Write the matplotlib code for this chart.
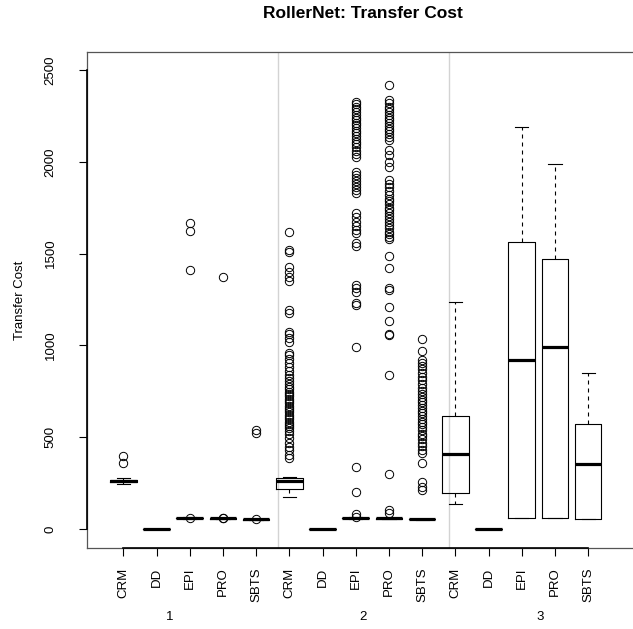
import numpy as np
import matplotlib
matplotlib.use("Agg")
from matplotlib import pyplot as plt

plt.rcParams['font.family'] = ['Liberation Sans', 'DejaVu Sans']

# boxes: 5 methods in each of 3 groups
methods = ["CRM", "DD", "EPI", "PRO", "SBTS"]
groups = ["1", "2", "3"]
labels = methods * 3

medians = [260, 0, 60, 58, 53, 263, 0, 60, 58, 54, 407, 0, 920, 991, 352]
q1 = [255, 0, 58, 56, 51, 218, 0, 58, 56, 52, 194, 0, 58, 58, 53]
q3 = [266, 0, 62, 60, 55, 276, 0, 62, 60, 56, 615, 0, 1565, 1470, 574]
whislo = [246, 0, 57, 55, 50, 173, 0, 56, 55, 51, 134, 0, 58, 58, 53]
whishi = [276, 0, 63, 62, 57, 282, 0, 64, 62, 57, 1238, 0, 2190, 1988, 848]

fliers = [
    [360, 395],
    [],
    [60, 1410, 1622, 1665],
    [62, 58, 1370],
    [55, 522, 540],
    [385, 405, 430, 448, 470, 495, 520, 535, 548, 560, 572, 585, 598, 610,
     622, 635, 648, 660, 672, 685, 698, 710, 722, 735, 748, 760, 775, 790,
     805, 822, 840, 860, 880, 905, 925, 945, 960, 1020, 1040, 1060, 1075,
     1175, 1192, 1350, 1375, 1400, 1428, 1508, 1522, 1615],
    [],
    [68, 80, 200, 340, 993, 1220, 1232, 1290, 1310, 1330, 1540, 1555, 1612,
     1630, 1650, 1672, 1700, 1720, 1828, 1845, 1860, 1880, 1895, 1910, 1930,
     1946, 2028, 2045, 2060, 2080, 2095, 2110, 2125, 2140, 2155, 2170, 2185,
     2200, 2212, 2225, 2240, 2255, 2270, 2285, 2300, 2315, 2327],
    [87, 103, 300, 839, 1057, 1062, 1133, 1211, 1300, 1311, 1423, 1487, 1578,
     1590, 1605, 1620, 1640, 1655, 1670, 1690, 1705, 1720, 1735, 1750, 1770,
     1785, 1800, 1820, 1840, 1860, 1880, 1900, 1972, 2000, 2035, 2064, 2119,
     2135, 2150, 2165, 2180, 2195, 2210, 2225, 2240, 2255, 2270, 2285, 2300,
     2320, 2337, 2418],
    [212, 230, 258, 361, 412, 430, 450, 470, 490, 505, 520, 540, 555, 570,
     585, 600, 615, 630, 645, 660, 675, 690, 705, 720, 735, 750, 770, 790,
     810, 830, 850, 870, 890, 905, 920, 970, 1033],
    [], [], [], [], [],
]

# vertical separators between groups and the positions of the group names
separators = [5.66, 10.8]
group_pos = [2.41, 8.22, 13.55]

stats = []
for i in range(len(labels)):
    stats.append(dict(med=medians[i], q1=q1[i], q3=q3[i],
                      whislo=whislo[i], whishi=whishi[i],
                      fliers=fliers[i], label=labels[i]))

positions = np.arange(1, len(labels) + 1)

fig = plt.figure(figsize=(6.33, 6.29), dpi=100)
ax = fig.add_axes([87 / 633, 81 / 629, 552 / 633, 496 / 629])

ax.bxp(stats, positions=positions, widths=0.8, capwidths=0.4,
       boxprops=dict(color="black", linewidth=0.8),
       medianprops=dict(color="black", linewidth=2.3, solid_capstyle="butt"),
       whiskerprops=dict(color="black", linewidth=0.8, linestyle=(0, (3.6, 3.6))),
       capprops=dict(color="black", linewidth=0.8),
       flierprops=dict(marker="o", markerfacecolor="none", markeredgecolor="black",
                       markersize=6, markeredgewidth=0.7),
       zorder=3)

for s in separators:
    ax.axvline(s, color="#d3d3d3", linewidth=1, zorder=1)

ax.set_xlim(-0.093, 16.53)
ax.set_ylim(-103.5, 2598)

yticks = [0, 500, 1000, 1500, 2000, 2500]
ax.set_yticks(yticks)
ax.set_yticklabels([str(v) for v in yticks], rotation=90, va="center")
ax.set_xticks(positions)
ax.set_xticklabels(labels, rotation=90)

ax.tick_params(axis="both", length=5.8, width=0.8, colors="black", labelsize=9.5)
ax.tick_params(axis="x", pad=8.4)
ax.tick_params(axis="y", pad=16)

for side in ["left", "top", "bottom"]:
    ax.spines[side].set_color("#555555")
    ax.spines[side].set_linewidth(0.9)
ax.spines["right"].set_visible(False)

# black axis lines spanning the tick range
ax.plot([positions[0], positions[-1]], [-103.5, -103.5], color="black",
        linewidth=1.2, clip_on=False, zorder=5)
ax.plot([-0.093, -0.093], [yticks[0], yticks[-1]], color="black",
        linewidth=1.2, clip_on=False, zorder=5)

for g, p in zip(groups, group_pos):
    ax.text(p, -0.139, g, transform=ax.get_xaxis_transform(), ha="center",
            va="center", fontsize=9.5)

ax.set_ylabel("Transfer Cost", fontsize=9.5)
ax.yaxis.set_label_coords(-0.11, 0.5)

fig.text(363 / 633, 1 - 14 / 629, "RollerNet: Transfer Cost", ha="center",
         va="center", fontsize=12.5, fontweight="bold")

fig.savefig("out.png", dpi=100)
